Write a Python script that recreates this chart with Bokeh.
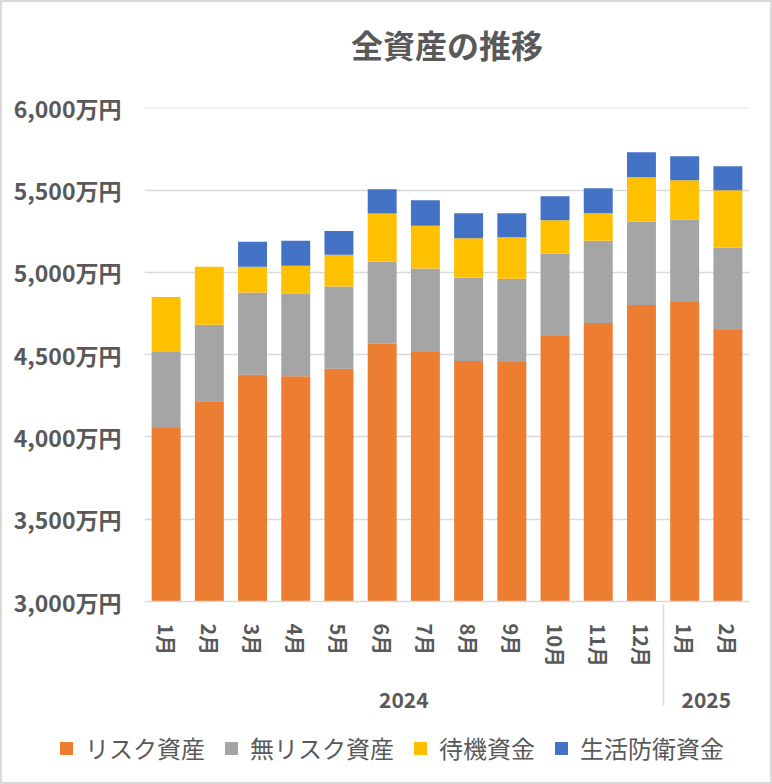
from bokeh.plotting import figure
from bokeh.layouts import column
from bokeh.models import FactorRange, Range1d, FixedTicker, ColumnDataSource, Title, Div
from bokeh.embed import file_html
from bokeh.resources import INLINE

years = ["2024"] * 12 + ["2025"] * 2
months = ["1月", "2月", "3月", "4月", "5月", "6月", "7月", "8月", "9月", "10月", "11月", "12月", "1月", "2月"]
risk = [4055, 4217, 4378, 4370, 4415, 4567, 4516, 4462, 4456, 4614, 4693, 4802, 4820, 4650]
norisk = [461, 465, 500, 500, 500, 498, 508, 506, 506, 500, 500, 506, 500, 500]
standby = [335, 353, 157, 171, 193, 294, 260, 240, 252, 204, 167, 271, 241, 350]
defense = [0, 0, 152, 152, 145, 147, 155, 152, 146, 146, 152, 152, 146, 146]
series_names = ["リスク資産", "無リスク資産", "待機資金", "生活防衛資金"]
colors = ["#ED7D31", "#A5A5A5", "#FFC000", "#4472C4"]
y_ticks = [3000, 3500, 4000, 4500, 5000, 5500, 6000]
y_tick_labels = ["3,000万円", "3,500万円", "4,000万円", "4,500万円", "5,000万円", "5,500万円", "6,000万円"]

FONT = "Noto Sans CJK JP"
TXT = "#595959"

factors = list(zip(years, months))
src = ColumnDataSource(dict(x=factors, s0=risk, s1=norisk, s2=standby, s3=defense))

x_range = FactorRange(*factors, factor_padding=0, group_padding=0, subgroup_padding=0, range_padding=0)
p = figure(x_range=x_range, y_range=Range1d(3000, 6003), frame_width=605, frame_height=494,
           output_backend="svg", toolbar_location=None,
           min_border_left=142, min_border_right=21, min_border_top=105, min_border_bottom=125)

rs = p.vbar_stack(["s0", "s1", "s2", "s3"], x="x", width=0.67, color=colors, line_color=None, source=src)

# spacer (closest to frame), then the visible title above it
p.add_layout(Title(text=" ", text_font=FONT, text_font_size="27px", standoff=0), "above")
p.add_layout(Title(text="全資産の推移", align="center", text_font=FONT, text_font_size="32px",
                   text_font_style="bold", text_color=TXT, standoff=0, offset=0), "above")

p.outline_line_color = None
p.xgrid.grid_line_color = None
p.ygrid.grid_line_color = "#D9D9D9"
p.ygrid.grid_line_width = 1.5
p.yaxis.ticker = FixedTicker(ticks=y_ticks)
p.yaxis.major_label_overrides = {t: l for t, l in zip(y_ticks, y_tick_labels)}
p.yaxis.axis_line_color = None
p.yaxis.major_tick_line_color = None
p.yaxis.minor_tick_line_color = None
p.yaxis.major_label_standoff = 17
p.yaxis.major_label_text_font = FONT
p.yaxis.major_label_text_font_size = "23px"
p.yaxis.major_label_text_font_style = "bold"
p.yaxis.major_label_text_color = TXT

xa = p.xaxis[0]
xa.axis_line_color = "#D9D9D9"
xa.axis_line_width = 1.5
xa.major_tick_line_color = None
xa.minor_tick_line_color = None
xa.major_tick_out = 0
xa.major_label_orientation = "vertical"
xa.major_label_text_font = FONT
xa.major_label_text_font_size = "20px"
xa.major_label_text_font_style = "bold"
xa.major_label_text_color = TXT
xa.major_label_standoff = 22
xa.group_text_font = FONT
xa.group_text_font_size = "21px"
xa.group_text_font_style = "bold"
xa.group_text_color = TXT
xa.separator_line_color = "#D9D9D9"
xa.separator_line_width = 1.5

# legend strip below the chart (built from the series names and colours)
items_html = "".join(
    f'<span style="display:inline-block;width:13px;height:13px;background:{c};margin-right:12px;flex:none"></span>'
    f'<span style="margin-right:{20 if i < len(series_names) - 1 else 0}px">{n}</span>'
    for i, (n, c) in enumerate(zip(series_names, colors))
)
legend_html = (
    f'<div style="display:flex;align-items:center;height:44px;padding-left:58px;'
    f"font-family:'{FONT}';font-size:24px;color:{TXT};white-space:nowrap;line-height:1\">"
    f"{items_html}</div>"
)
legend_div = Div(text=legend_html, width=768, height=56, margin=(0, 0, 0, 0))

layout = column(p, legend_div, spacing=0, styles={"border": "2px solid #D9D9D9", "background": "white"})

open("out.html", "w").write(file_html(layout, INLINE))
